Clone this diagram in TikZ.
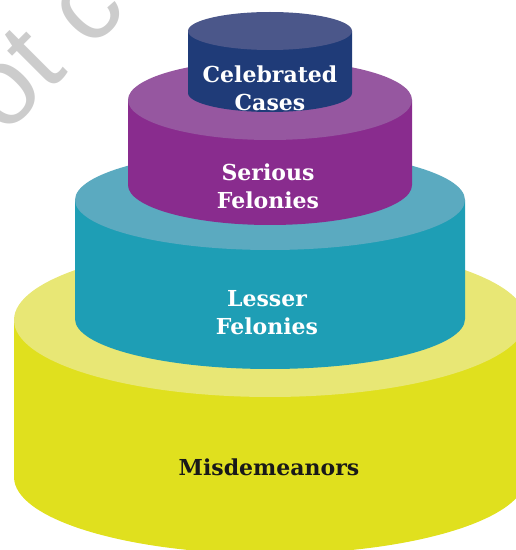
\documentclass[tikz,border=0pt]{standalone}
\usepackage{fontspec}
\setmainfont{DejaVu Serif}
\newfontfamily\wmfont{Liberation Sans}
\usepackage{tikz}
\definecolor{casetop}{HTML}{4B578A}
\definecolor{caseside}{HTML}{1F3B78}
\definecolor{serioustop}{HTML}{9657A0}
\definecolor{seriousside}{HTML}{892C8E}
\definecolor{lessertop}{HTML}{5BAAC0}
\definecolor{lesserside}{HTML}{1E9EB5}
\definecolor{misdtop}{HTML}{E8E775}
\definecolor{misdside}{HTML}{E0E01E}
\definecolor{wmgray}{HTML}{CCCCCC}
\newcommand{\drawtier}[7]{%
  \fill[#6] (#1-#4,#2) -- (#1-#4,#3) arc[start angle=180,end angle=360,x radius=#4,y radius=#5] -- (#1+#4,#2) -- cycle;
  \fill[#7] (#1,#2) ellipse [x radius=#4, y radius=#5];
}
\tikzset{
  tierlabel/.style={align=center,font=\bfseries\fontsize{22}{28}\selectfont,text=white},
}

\begin{document}
\begin{tikzpicture}[x=1pt,y=1pt]
    \useasboundingbox (0,0) rectangle (516,550);
    \node (watermark) at (42,501) [rotate=45,text=wmgray,font=\wmfont\fontsize{110}{110}\selectfont] {ot c};
    \drawtier{270}{230}{73}{256}{77}{misdside}{misdtop}
    \drawtier{270}{350}{231}{195}{50}{lesserside}{lessertop}
    \drawtier{270}{450}{365}{142}{40}{seriousside}{serioustop}
    \drawtier{270}{519}{457}{82}{19}{caseside}{casetop}
    \node (celebrated) at (270,462) [tierlabel] {Celebrated\\Cases};
    \node (serious) at (268,364) [tierlabel] {Serious\\Felonies};
    \node (lesser) at (267,237) [tierlabel] {Lesser\\Felonies};
    \node (misdemeanors) at (269,83) [tierlabel,text=black!90] {Misdemeanors};
  \end{tikzpicture}
\end{document}
